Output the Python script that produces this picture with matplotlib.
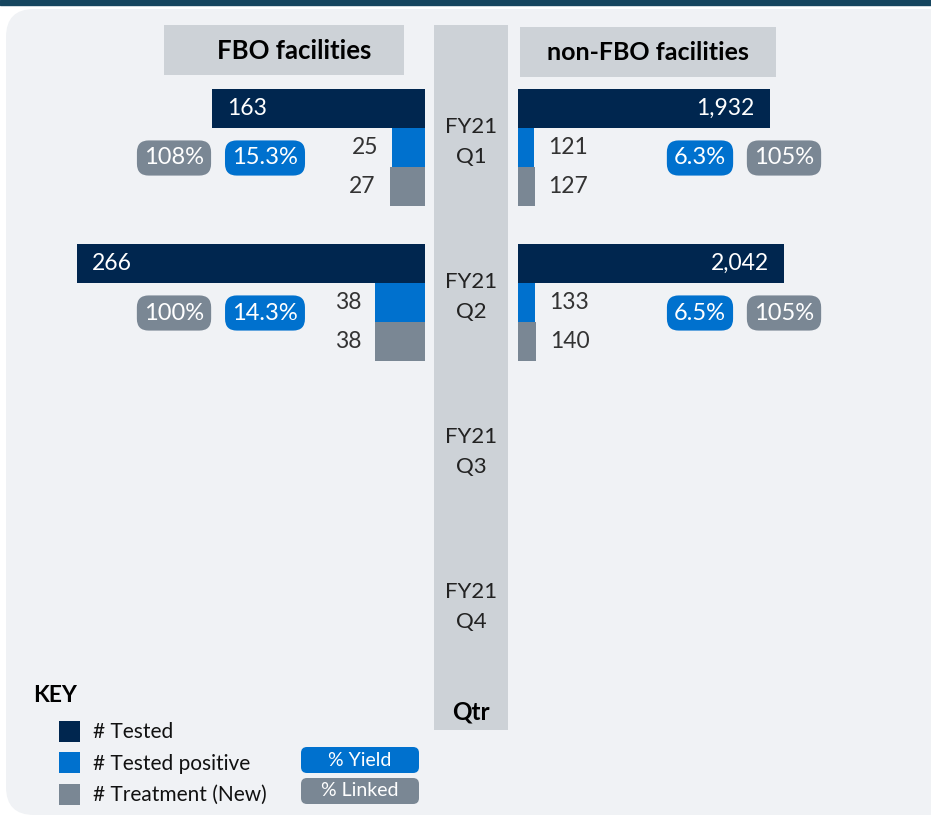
import matplotlib
matplotlib.use("Agg")
import matplotlib.pyplot as plt
from matplotlib.patches import Rectangle, FancyBboxPatch

plt.rcParams['font.family'] = ['Lato', 'DejaVu Sans']

# data
quarters = ["FY21\nQ1", "FY21\nQ2", "FY21\nQ3", "FY21\nQ4"]
fbo_tested = [163, 266]
fbo_positive = [25, 38]
fbo_treatment = [27, 38]
fbo_yield = ["15.3%", "14.3%"]
fbo_linked = ["108%", "100%"]
non_tested = [1932, 2042]
non_positive = [121, 133]
non_treatment = [127, 140]
non_yield = ["6.3%", "6.5%"]
non_linked = ["105%", "105%"]

NAVY = "#00264f"
BLUE = "#0071ce"
GRAY = "#7a8794"
COL = "#cdd2d7"
PANEL = "#f0f2f5"
TXT = "#333333"

W, H = 931, 819
fig = plt.figure(figsize=(W / 100, H / 100), dpi=100)

# background layer in pixel coords
bg = fig.add_axes([0, 0, 1, 1])
bg.set_xlim(0, W)
bg.set_ylim(H, 0)
bg.axis("off")

bg.add_patch(Rectangle((0, 0), W, 5, color="#16465f"))
bg.add_patch(FancyBboxPatch((6, 9), W + 40, 806, boxstyle="round,pad=0,rounding_size=28",
                            color=PANEL, lw=0))
# centre column + headers
bg.add_patch(Rectangle((434, 25), 74, 705, color=COL, lw=0))
bg.add_patch(Rectangle((164, 25), 240, 50, color=COL, lw=0))
bg.add_patch(Rectangle((520, 27), 256, 50, color=COL, lw=0))
bg.text(294, 51, "FBO facilities", ha="center", va="center", fontsize=18.5, fontweight="bold")
bg.text(648, 53, "non-FBO facilities", ha="center", va="center", fontsize=18, fontweight="bold")
bg.text(471, 712, "Qtr", ha="center", va="center", fontsize=17.5, fontweight="bold")

Q0, QSTEP = 142, 155
for i, q in enumerate(quarters):
    bg.text(471, Q0 + QSTEP * i, q, ha="center", va="center", fontsize=16,
            linespacing=1.6, color="#222222")


def pill(x, y, s, color):
    bg.text(x, y, s, ha="center", va="center", fontsize=17, color="white",
            bbox=dict(boxstyle="round,pad=0.3,rounding_size=0.5", fc=color, ec="none"))


for i in range(len(fbo_tested)):
    y = Q0 + QSTEP * i + 16
    pill(174, y, fbo_linked[i], GRAY)
    pill(265, y, fbo_yield[i], BLUE)
    pill(700, y, non_yield[i], BLUE)
    pill(784, y, non_linked[i], GRAY)

# key
bg.text(33, 696, "KEY", ha="left", va="center", fontsize=16.5, fontweight="bold")
key_items = ["# Tested", "# Tested positive", "# Treatment (New)"]
for j, (lab, c) in enumerate(zip(key_items, [NAVY, BLUE, GRAY])):
    yy = 731 + 31.5 * j
    bg.add_patch(Rectangle((59, yy - 10.5), 21, 21, color=c, lw=0))
    bg.text(93, yy + 1, lab, ha="left", va="center", fontsize=15, color="#111111")
for j, (lab, c) in enumerate(zip(["% Yield", "% Linked"], [BLUE, GRAY])):
    yy = 760 + 31 * j
    bg.add_patch(FancyBboxPatch((301, yy - 13), 118, 26, boxstyle="round,pad=0,rounding_size=6",
                                color=c, lw=0))
    bg.text(360, yy, lab, ha="center", va="center", fontsize=14, color="white")

# bar axes: y unit = one quarter, centred on quarter label
ylim = ((H - Q0) / QSTEP, -Q0 / QSTEP)
BH = 39 / QSTEP
OFF = [-33.5 / QSTEP, 5.5 / QSTEP, 44.5 / QSTEP]
PT = 72 / 100  # px -> points


def bar_axes(left_px, width_px, px_per_unit, invert):
    ax = fig.add_axes([left_px / W, 0, width_px / W, 1])
    span = width_px / px_per_unit
    ax.set_xlim((span, 0) if invert else (0, span))
    ax.set_ylim(*ylim)
    ax.axis("off")
    ax.patch.set_alpha(0)
    return ax


axL = bar_axes(5, 420, 1.308, True)
axR = bar_axes(518, 413, 0.1303, False)

for ax, tested, pos, treat, sign in [(axL, fbo_tested, fbo_positive, fbo_treatment, -1),
                                     (axR, non_tested, non_positive, non_treatment, 1)]:
    for i in range(len(tested)):
        for k, (v, c) in enumerate(zip([tested[i], pos[i], treat[i]], [NAVY, BLUE, GRAY])):
            ax.barh(i + OFF[k], v, height=BH, color=c, lw=0)
            if k == 0:
                ax.annotate(f"{v:,}", (v, i + OFF[k]), xytext=(-sign * 15 * PT, 0),
                            textcoords="offset points", va="center",
                            ha="left" if sign < 0 else "right",
                            fontsize=16.5, color="white")
            else:
                ax.annotate(f"{v:,}", (v, i + OFF[k]), xytext=(sign * 14 * PT, 0),
                            textcoords="offset points", va="center",
                            ha="right" if sign < 0 else "left",
                            fontsize=16.5, color=TXT)

fig.savefig("out.png", dpi=100, facecolor="white")
